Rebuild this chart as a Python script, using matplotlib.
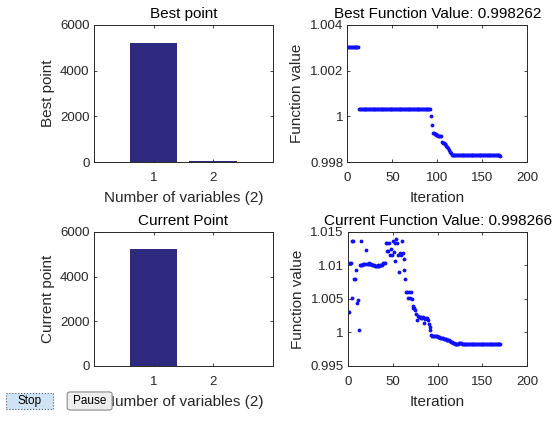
import numpy as np
import matplotlib as mpl
mpl.use('Agg')
import matplotlib.pyplot as plt
from matplotlib import ticker
from matplotlib.patches import Rectangle, FancyBboxPatch

# bar data
var_labels = [1, 2]
best_point = [5200, 55]
current_point = [5220, 12]

# best function value per iteration
best_fval = ([1.00302] * 13 + [1.00031] * 80 +
             [1.0000, 0.99963, 0.99929, 0.99926, 0.99924, 0.99922, 0.99920,
              0.99917, 0.99916, 0.99915, 0.99915, 0.99912,
              0.99888, 0.99885, 0.99883, 0.99880, 0.99877,
              0.99870, 0.99868, 0.99862, 0.99854, 0.99845, 0.99838, 0.99833] +
             [0.99830] * 53 + [0.998262])

# current function value per iteration
current_fval = ([1.0031, 1.0031, 1.0103, 1.0103, 1.0137, 1.0052, 1.0137, 1.0080,
                 1.0080, 1.0093, 1.0044, 1.0049, 1.0004, 1.0101, 1.0136, 1.0101,
                 1.0101, 1.0102, 1.0102, 1.0102, 1.0123, 1.0102, 1.0102, 1.0102,
                 1.0103, 1.0102, 1.0102, 1.0101, 1.0101, 1.0100, 1.0099, 1.0099,
                 1.0099, 1.0100, 1.0099, 1.0099, 1.0100, 1.0100, 1.0101, 1.0103,
                 1.0104, 1.0104,
                 1.0133, 1.0122, 1.0133, 1.0122, 1.0134, 1.0115, 1.0124, 1.0116,
                 1.0137, 1.0120, 1.0134, 1.0107, 1.0139, 1.0134, 1.0116, 1.0090,
                 1.0118, 1.0116, 1.0136, 1.0118, 1.0110, 1.0093, 1.0080, 1.0061,
                 1.0061, 1.0052, 1.0061, 1.0052, 1.0061, 1.0050, 1.0039, 1.0037,
                 1.0036, 1.0033, 1.0028, 1.0019, 1.0024, 1.0023, 1.0023, 1.0022,
                 1.0023, 1.0021, 1.0023, 1.0014, 1.0020, 1.0021, 1.0021, 1.0018,
                 1.0012, 1.0008, 1.0004, 0.9996, 0.9994, 0.9994, 0.9994, 0.9994,
                 0.9994, 0.9994, 0.9993, 0.9993, 0.9993, 0.9992, 0.9992, 0.9991,
                 0.9991, 0.9990, 0.9990, 0.9990, 0.9989, 0.9989, 0.9988, 0.9988,
                 0.9987, 0.9986, 0.9985, 0.9984, 0.9984, 0.9983, 0.9983, 0.9983,
                 0.9983, 0.9983, 0.9984, 0.9984, 0.9984, 0.9983] +
                [0.99829] * 42 + [0.998266])

best_iter = np.arange(len(best_fval))
current_iter = np.arange(len(current_fval))

plt.rcParams['font.family'] = ['Liberation Sans', 'DejaVu Sans']
plt.rcParams['font.size'] = 8
axis_col = '#262626'
bar_col = '#2d2a80'
dot_col = '#1010ff'
lab_size = 11

fig = plt.figure(figsize=(5.55, 4.21), dpi=100)


def style(ax):
    ax.tick_params(direction='in', top=True, right=True, length=2.5,
                   width=0.6, colors=axis_col, labelsize=9.5)
    ax.tick_params(axis='x', pad=7)
    ax.tick_params(axis='y', pad=3)
    for s in ax.spines.values():
        s.set_color(axis_col)
        s.set_linewidth(0.7)


def gformat(v, p):
    return '%g' % round(v, 6)


# Best point bars
ax1 = fig.add_axes([0.169, 0.615, 0.323, 0.326])
ax1.bar(var_labels, best_point, width=0.8, color=bar_col)
ax1.set_xlim(0, 3)
ax1.set_ylim(0, 6000)
ax1.set_xticks(var_labels)
ax1.set_yticks([0, 2000, 4000, 6000])
ax1.set_title('Best point', fontsize=lab_size, pad=5)
ax1.set_xlabel('Number of variables (2)', fontsize=lab_size, color=axis_col, labelpad=5)
ax1.set_ylabel('Best point', fontsize=lab_size, color=axis_col)
style(ax1)

# Best function value
ax2 = fig.add_axes([0.626, 0.615, 0.324, 0.326])
ax2.plot(best_iter, best_fval, '.', color=dot_col, markersize=3.5)
ax2.set_xlim(0, 200)
ax2.set_ylim(0.998, 1.004)
ax2.set_xticks([0, 50, 100, 150, 200])
ax2.set_yticks([0.998, 1.0, 1.002, 1.004])
ax2.yaxis.set_major_formatter(ticker.FuncFormatter(gformat))
ax2.set_title('Best Function Value: 0.998262', fontsize=lab_size, pad=5)
ax2.set_xlabel('Iteration', fontsize=lab_size, color=axis_col, labelpad=5)
ax2.set_ylabel('Function value', fontsize=lab_size, color=axis_col)
style(ax2)

# Current point bars
ax3 = fig.add_axes([0.169, 0.131, 0.323, 0.318])
ax3.bar(var_labels, current_point, width=0.8, color=bar_col)
ax3.set_xlim(0, 3)
ax3.set_ylim(0, 6000)
ax3.set_xticks(var_labels)
ax3.set_yticks([0, 2000, 4000, 6000])
ax3.set_title('Current Point', fontsize=lab_size, pad=5)
ax3.set_xlabel('Number of variables (2)', fontsize=lab_size, color=axis_col, labelpad=5)
ax3.set_ylabel('Current point', fontsize=lab_size, color=axis_col)
style(ax3)

# Current function value
ax4 = fig.add_axes([0.627, 0.131, 0.323, 0.318])
ax4.plot(current_iter, current_fval, '.', color=dot_col, markersize=3.5)
ax4.set_xlim(0, 200)
ax4.set_ylim(0.995, 1.015)
ax4.set_xticks([0, 50, 100, 150, 200])
ax4.set_yticks([0.995, 1.0, 1.005, 1.01, 1.015])
ax4.yaxis.set_major_formatter(ticker.FuncFormatter(gformat))
ax4.set_title('Current Function Value: 0.998266', fontsize=lab_size, pad=5)
ax4.set_xlabel('Iteration', fontsize=lab_size, color=axis_col, labelpad=5)
ax4.set_ylabel('Function value', fontsize=lab_size, color=axis_col)
style(ax4)

# Stop / Pause buttons
stop_box = Rectangle((0.011, 0.028), 0.085, 0.039, transform=fig.transFigure,
                     fc='#cfe3f5', ec='#3c5a78', lw=0.8, ls=':', zorder=10)
pause_box = FancyBboxPatch((0.121, 0.026), 0.081, 0.043, transform=fig.transFigure,
                           boxstyle='round,pad=0,rounding_size=0.006',
                           fc='#eeeeee', ec='#8a8a8a', lw=0.8, zorder=10)
fig.patches.extend([stop_box, pause_box])
fig.text(0.0535, 0.047, 'Stop', ha='center', va='center', fontsize=8.5, zorder=11)
fig.text(0.1615, 0.047, 'Pause', ha='center', va='center', fontsize=8.5, zorder=11)

plt.savefig('out.png', dpi=100)
